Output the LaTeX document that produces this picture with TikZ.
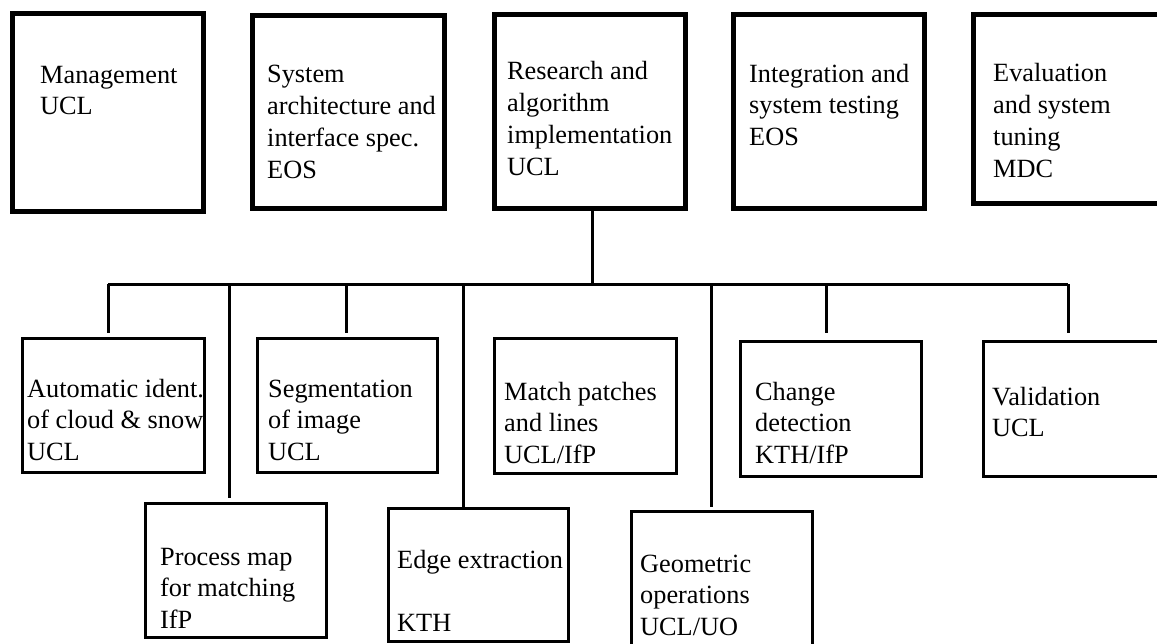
\documentclass[tikz,border=0pt]{standalone}
\usepackage{fontspec}
\setmainfont{Liberation Serif}

\begin{document}
\begin{tikzpicture}[x=1pt, y=-1pt,
    font=\fontsize{26.3}{31.7}\selectfont,
    wp/.style={draw, line width=5pt, anchor=north west, inner sep=0pt, outer sep=0pt},
    task/.style={draw, line width=3pt, anchor=north west, inner sep=0pt, outer sep=0pt},
    txt/.style={anchor=base west, align=left, inner sep=0pt},
    link/.style={line width=3pt}]

    \clip (0,0) rectangle (1157,643);

    % work packages (text placed at the baseline of its last line)
    \node[txt] (mgmt-t) at (40,114.7) {Management\\UCL};
    \node[txt] (arch-t) at (267,178) {System\\architecture and\\interface spec.\\EOS};
    \node[txt] (res-t) at (507,175) {Research and\\algorithm\\implementation\\UCL};
    \node[txt] (integ-t) at (749,145.4) {Integration and\\system testing\\EOS};
    \node[txt] (eval-t) at (993,177) {Evaluation\\and system\\tuning\\MDC};

    \node[wp, minimum width=191pt, minimum height=198pt] (mgmt) at (12,13) {};
    \node[wp, minimum width=192pt, minimum height=193pt] (arch) at (252,15) {};
    \node[wp, minimum width=191pt, minimum height=194pt] (res) at (494,14) {};
    \node[wp, minimum width=191pt, minimum height=194pt] (integ) at (733,14) {};
    \node[wp, minimum width=220pt, minimum height=189pt] (eval) at (973,14) {};

    % tasks
    \node[txt] (auto-t) at (27,460.4) {Automatic ident.\\of cloud \& snow\\UCL};
    \node[txt] (seg-t) at (268,460.4) {Segmentation\\of image\\UCL};
    \node[txt] (match-t) at (504,463.4) {Match patches\\and lines\\UCL/IfP};
    \node[txt] (change-t) at (755,463.4) {Change\\detection\\KTH/IfP};
    \node[txt] (valid-t) at (992,436.7) {Validation\\UCL};
    \node[txt] (proc-t) at (160,628.4) {Process map\\for matching\\IfP};
    \node[txt] (edge-t) at (397,631.4) {Edge extraction\\\mbox{}\\KTH};
    \node[txt] (geom-t) at (640,635.4) {Geometric\\operations\\UCL/UO};

    \node[task, minimum width=182pt, minimum height=134pt] (auto) at (22,338) {};
    \node[task, minimum width=180pt, minimum height=134pt] (seg) at (257,338) {};
    \node[task, minimum width=182pt, minimum height=135pt] (match) at (494,338) {};
    \node[task, minimum width=181pt, minimum height=135pt] (change) at (740,341) {};
    \node[task, minimum width=220pt, minimum height=135pt] (valid) at (983,341) {};
    \node[task, minimum width=181pt, minimum height=134pt] (proc) at (145,503) {};
    \node[task, minimum width=180pt, minimum height=133pt] (edge) at (388,508) {};
    \node[task, minimum width=181pt, minimum height=160pt] (geom) at (631,511) {};

    % tree
    \coordinate (b-auto) at (108,284);
    \coordinate (b-proc) at (229,284);
    \coordinate (b-seg) at (346,284);
    \coordinate (b-res) at (592,284);
    \coordinate (b-edge) at (463,284);
    \coordinate (b-geom) at (711,284);
    \coordinate (b-change) at (826,284);
    \coordinate (b-valid) at (1068,284);

    \draw[link] (b-res |- res.south) -- (b-res);
    \draw[link] (b-auto) -- (b-valid);
    \draw[link] (b-auto) -- ([yshift=5pt]b-auto |- auto.north);
    \draw[link] (b-proc) -- ([yshift=5pt]b-proc |- proc.north);
    \draw[link] (b-seg) -- ([yshift=5pt]b-seg |- seg.north);
    \draw[link] (b-edge) -- (b-edge |- edge.north);
    \draw[link] (b-geom) -- ([yshift=4pt]b-geom |- geom.north);
    \draw[link] (b-change) -- ([yshift=8pt]b-change |- change.north);
    \draw[link] (b-valid) -- ([yshift=8pt]b-valid |- valid.north);
\end{tikzpicture}
\end{document}
